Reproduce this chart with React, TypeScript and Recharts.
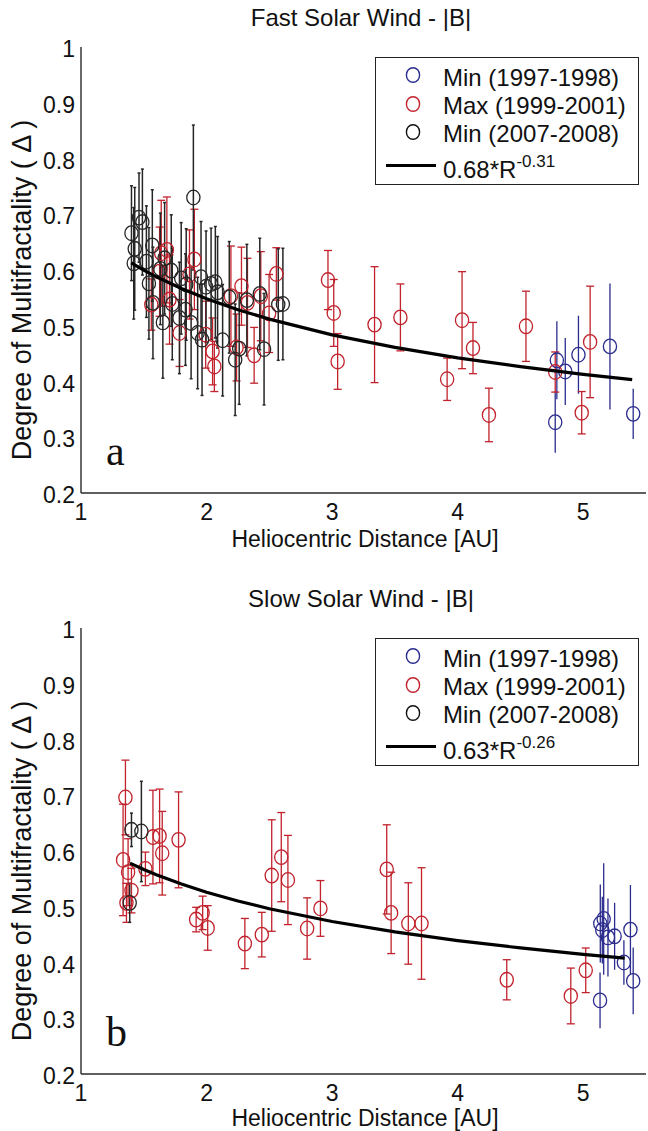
import React from 'react'
import { ErrorBar, Scatter, ScatterChart, XAxis, YAxis } from 'recharts'

const FONT = '"Liberation Sans", Arial, Helvetica, sans-serif'
const RED = '#c1222c'
const BLUE = '#2b2c8e'
const BLACK = '#262626'
const AXIS = '#2a2a2a'

// axis ticks
const xTicks = [1, 2, 3, 4, 5]
const xMinorTicks = Array.from({ length: 45 }, (_, i) => Math.round((1 + i * 0.1) * 10) / 10).filter((v) => v % 1 !== 0)
const yTicks = [0.2, 0.3, 0.4, 0.5, 0.6, 0.7, 0.8, 0.9, 1]
const yMinorTicks = [0.25, 0.35, 0.45, 0.55, 0.65, 0.75, 0.85, 0.95]

// fast wind, [R (AU), degree of multifractality, error]
const fastMin97 = [
  [4.777, 0.327, 0.055], [4.79, 0.438, 0.07], [4.857, 0.418, 0.06], [4.962, 0.448, 0.07],
  [5.213, 0.463, 0.113], [5.398, 0.342, 0.045],
]
const fastMax99 = [
  [1.56, 0.538, 0.046], [1.626, 0.597, 0.08], [1.639, 0.63, 0.095], [1.684, 0.636, 0.095],
  [1.705, 0.547, 0.08], [1.785, 0.487, 0.06], [1.864, 0.592, 0.08], [1.903, 0.619, 0.09],
  [1.993, 0.484, 0.06], [2.048, 0.454, 0.06], [2.062, 0.427, 0.045], [2.194, 0.553, 0.09],
  [2.239, 0.461, 0.06], [2.278, 0.571, 0.07], [2.326, 0.541, 0.08], [2.379, 0.447, 0.05],
  [2.432, 0.553, 0.08], [2.498, 0.522, 0.07], [2.556, 0.593, 0.047],
  [2.967, 0.582, 0.053], [3.013, 0.523, 0.06], [3.044, 0.436, 0.05], [3.338, 0.502, 0.104],
  [3.544, 0.515, 0.06], [3.916, 0.404, 0.038], [4.035, 0.51, 0.087], [4.122, 0.46, 0.046],
  [4.249, 0.34, 0.048], [4.544, 0.499, 0.063], [4.777, 0.417, 0.036], [4.988, 0.344, 0.038],
  [5.055, 0.471, 0.1],
]
const fastMin07 = [
  [1.402, 0.666, 0.085], [1.462, 0.694, 0.08], [1.489, 0.686, 0.095], [1.428, 0.638, 0.11],
  [1.42, 0.612, 0.1], [1.568, 0.644, 0.1], [1.521, 0.615, 0.1], [1.541, 0.576, 0.1],
  [1.632, 0.602, 0.1], [1.666, 0.621, 0.1], [1.719, 0.599, 0.1], [1.573, 0.541, 0.1],
  [1.652, 0.506, 0.1], [1.727, 0.539, 0.1], [1.798, 0.585, 0.1], [1.784, 0.514, 0.1],
  [1.838, 0.574, 0.1], [1.832, 0.529, 0.1], [1.877, 0.505, 0.1], [1.929, 0.487, 0.1],
  [1.895, 0.73, 0.13], [1.956, 0.587, 0.1], [1.996, 0.57, 0.1], [2.036, 0.575, 0.1],
  [2.07, 0.578, 0.1], [2.088, 0.56, 0.1], [1.964, 0.475, 0.1], [2.128, 0.474, 0.1],
  [2.181, 0.551, 0.1], [2.228, 0.439, 0.1], [2.26, 0.459, 0.1], [2.321, 0.546, 0.1],
  [2.424, 0.557, 0.1], [2.458, 0.458, 0.1], [2.571, 0.538, 0.1], [2.608, 0.539, 0.1],
]

// slow wind
const slowMin97 = [
  [5.134, 0.332, 0.05], [5.136, 0.47, 0.07], [5.163, 0.478, 0.1], [5.152, 0.458, 0.06],
  [5.197, 0.445, 0.07], [5.25, 0.447, 0.06], [5.324, 0.4, 0.04], [5.376, 0.459, 0.08],
  [5.398, 0.367, 0.06],
]
const slowMax99 = [
  [1.354, 0.696, 0.067], [1.335, 0.584, 0.1], [1.375, 0.562, 0.06], [1.402, 0.529, 0.04],
  [1.362, 0.507, 0.035], [1.513, 0.568, 0.03], [1.573, 0.625, 0.084], [1.626, 0.627, 0.084],
  [1.647, 0.596, 0.075], [1.777, 0.62, 0.086], [1.917, 0.477, 0.022], [1.969, 0.489, 0.03],
  [2.009, 0.462, 0.04], [2.305, 0.434, 0.045], [2.44, 0.45, 0.04], [2.519, 0.556, 0.1],
  [2.595, 0.589, 0.08], [2.648, 0.548, 0.08], [2.801, 0.461, 0.055], [2.907, 0.497, 0.05],
  [3.435, 0.567, 0.08], [3.47, 0.489, 0.073], [3.607, 0.47, 0.073], [3.712, 0.47, 0.1],
  [4.391, 0.369, 0.036], [4.901, 0.34, 0.05], [5.02, 0.386, 0.04],
]
const slowMin07 = [
  [1.402, 0.638, 0.03], [1.481, 0.635, 0.09], [1.388, 0.507, 0.035],
]

// power-law fits from the legend
const fastFitR = [1.4, 1.5, 1.6, 1.8, 2, 2.25, 2.5, 3, 3.5, 4, 4.5, 5, 5.39]
const slowFitR = [1.39, 1.5, 1.6, 1.8, 2, 2.25, 2.5, 3, 3.5, 4, 4.5, 5, 5.33]

const toPts = (rows: number[][]) => rows.map(([x, y, e]) => ({ x, y, e }))
const fitPts = (rs: number[], a: number, b: number) => rs.map((x) => ({ x, y: a * Math.pow(x, b) }))

const ring = (color: string) => (p: any) => (
  <ellipse cx={p.cx} cy={p.cy} rx={6.6} ry={7.3} fill='none' stroke={color} strokeWidth={1.3} />
)
const NoShape = () => <g />
const NoLabel = () => null

const YTickText = (p: any) => (
  <text x={p.x} y={p.y} dy={10} textAnchor='end' fontSize={23} fontFamily={FONT} fill='#111'>
    {p.payload.value === 1 ? '1' : p.payload.value.toFixed(1)}
  </text>
)
const XTickText = (p: any) => (
  <text x={p.x} y={p.y} dy={27} textAnchor='middle' fontSize={23} fontFamily={FONT} fill='#111'>
    {p.payload.value}
  </text>
)

function LegendBox({ fitLabel, fitExp }: { fitLabel: string; fitExp: string }) {
  const rows = [
    { color: BLUE, text: 'Min (1997-1998)' },
    { color: RED, text: 'Max (1999-2001)' },
    { color: '#111', text: 'Min (2007-2008)' },
  ]
  return (
    <div
      style={{
        position: 'absolute', left: 375, top: 57, width: 262, height: 126,
        border: '1.4px solid #222', background: '#fff',
      }}
    >
      {rows.map((r, i) => (
        <React.Fragment key={r.text}>
          <svg style={{ position: 'absolute', left: 28, top: 8 + i * 28.7 }} width={18} height={18}>
            <ellipse cx={9} cy={9} rx={6.6} ry={7.3} fill='none' stroke={r.color} strokeWidth={1.4} />
          </svg>
          <div style={{ position: 'absolute', left: 67, top: 7.5 + i * 28.3, fontSize: 24, lineHeight: 1, whiteSpace: 'nowrap', color: '#111' }}>
            {r.text}
          </div>
        </React.Fragment>
      ))}
      <div style={{ position: 'absolute', left: 10, top: 105.5, width: 50, height: 3, background: '#000' }} />
      <div style={{ position: 'absolute', left: 67, top: 99.5, fontSize: 24, lineHeight: 1, whiteSpace: 'nowrap', color: '#111' }}>
        {fitLabel}
        <span style={{ fontSize: 17, position: 'relative', top: -11 }}>{fitExp}</span>
      </div>
    </div>
  )
}

function Panel(props: {
  top: number
  title: string
  letter: string
  xLabelTop: number
  blue: number[][]
  red: number[][]
  black: number[][]
  fit: { x: number; y: number }[]
  fitLabel: string
  fitExp: string
}) {
  const { top, title, letter, xLabelTop, blue, red, black, fit, fitLabel, fitExp } = props
  const dom: [number, number] = [1, 5.5]
  const ydom: [number, number] = [0.2, 1]
  const tickStroke = { stroke: AXIS, strokeWidth: 1.1 }
  return (
    <div style={{ position: 'absolute', left: 0, top, width: 648, height: 565 }}>
      <ScatterChart width={648} height={565} margin={{ top: 47, right: 2, bottom: 0, left: 0 }}>
        <XAxis xAxisId='x' type='number' dataKey='x' domain={dom} allowDataOverflow ticks={xTicks} interval={0}
          tick={XTickText} tickLine={false} tickSize={0} tickMargin={0} height={72}
          axisLine={{ stroke: AXIS, strokeWidth: 1.4 }} />
        <XAxis xAxisId='xb1' type='number' domain={dom} allowDataOverflow ticks={xTicks} interval={0} height={0}
          orientation='bottom' mirror tick={NoLabel} tickSize={5} tickLine={tickStroke} axisLine={false} />
        <XAxis xAxisId='xb2' type='number' domain={dom} allowDataOverflow ticks={xMinorTicks} interval={0} height={0}
          orientation='bottom' mirror tick={NoLabel} tickSize={2.5} tickLine={tickStroke} axisLine={false} />
        <XAxis xAxisId='xt1' type='number' domain={dom} allowDataOverflow ticks={xTicks} interval={0} height={0}
          orientation='top' mirror tick={NoLabel} tickSize={5} tickLine={tickStroke}
          axisLine={{ stroke: AXIS, strokeWidth: 1.4 }} />
        <XAxis xAxisId='xt2' type='number' domain={dom} allowDataOverflow ticks={xMinorTicks} interval={0} height={0}
          orientation='top' mirror tick={NoLabel} tickSize={2.5} tickLine={tickStroke} axisLine={false} />
        <YAxis yAxisId='y' type='number' dataKey='y' domain={ydom} allowDataOverflow ticks={yTicks} interval={0}
          tick={YTickText} tickLine={false} tickSize={0} tickMargin={6} width={81}
          axisLine={{ stroke: AXIS, strokeWidth: 1.4 }} />
        <YAxis yAxisId='yl1' type='number' domain={ydom} allowDataOverflow ticks={yTicks} interval={0} width={0}
          orientation='left' mirror tick={NoLabel} tickSize={5} tickLine={tickStroke} axisLine={false} />
        <YAxis yAxisId='yl2' type='number' domain={ydom} allowDataOverflow ticks={yMinorTicks} interval={0} width={0}
          orientation='left' mirror tick={NoLabel} tickSize={2.5} tickLine={tickStroke} axisLine={false} />
        <YAxis yAxisId='yr1' type='number' domain={ydom} allowDataOverflow ticks={yTicks} interval={0} width={0}
          orientation='right' mirror tick={NoLabel} tickSize={5} tickLine={tickStroke}
          axisLine={{ stroke: AXIS, strokeWidth: 1.4 }} />
        <YAxis yAxisId='yr2' type='number' domain={ydom} allowDataOverflow ticks={yMinorTicks} interval={0} width={0}
          orientation='right' mirror tick={NoLabel} tickSize={2.5} tickLine={tickStroke} axisLine={false} />

        <Scatter xAxisId='x' yAxisId='y' data={toPts(blue)} shape={ring(BLUE)} isAnimationActive={false}>
          <ErrorBar dataKey='e' direction='y' width={0} stroke={BLUE} strokeWidth={1.3} isAnimationActive={false} />
        </Scatter>
        <Scatter xAxisId='x' yAxisId='y' data={toPts(red)} shape={ring(RED)} isAnimationActive={false}>
          <ErrorBar dataKey='e' direction='y' width={4} stroke={RED} strokeWidth={1.3} isAnimationActive={false} />
        </Scatter>
        <Scatter xAxisId='x' yAxisId='y' data={toPts(black)} shape={ring(BLACK)} isAnimationActive={false}>
          <ErrorBar dataKey='e' direction='y' width={1.5} stroke={BLACK} strokeWidth={1.5} isAnimationActive={false} />
        </Scatter>
        <Scatter xAxisId='x' yAxisId='y' data={fit} shape={NoShape} line={{ stroke: '#000', strokeWidth: 3.2 }}
          isAnimationActive={false} />
      </ScatterChart>

      <div style={{ position: 'absolute', left: 0, width: 722, top: 6, textAlign: 'center', fontSize: 24, lineHeight: 1, color: '#111' }}>
        {title}
      </div>
      <div style={{ position: 'absolute', left: 0, width: 730, top: xLabelTop, textAlign: 'center', fontSize: 23, lineHeight: 1, color: '#111' }}>
        Heliocentric Distance [AU]
      </div>
      <div
        style={{
          position: 'absolute', left: 22, top: 290, fontSize: 27, lineHeight: 1, whiteSpace: 'nowrap', color: '#111',
          transform: 'translate(-50%, -50%) rotate(-90deg)',
        }}
      >
        Degree of Multifractality ( Δ )
      </div>
      <div style={{ position: 'absolute', left: 106, top: 430, fontSize: 42, lineHeight: 1, fontFamily: '"Liberation Serif", "DejaVu Serif", serif', color: '#111' }}>
        {letter}
      </div>
      <LegendBox fitLabel={fitLabel} fitExp={fitExp} />
    </div>
  )
}

export default function App() {
  return (
    <div style={{ position: 'absolute', left: 0, top: 0, width: 648, height: 1131, overflow: 'hidden', background: '#fff', fontFamily: FONT }}>
      <Panel top={0} title='Fast Solar Wind - |B|' letter='a' xLabelTop={528} blue={fastMin97} red={fastMax99} black={fastMin07}
        fit={fitPts(fastFitR, 0.68, -0.31)} fitLabel='0.68*R' fitExp='-0.31' />
      <Panel top={581} title='Slow Solar Wind - |B|' letter='b' xLabelTop={526} blue={slowMin97} red={slowMax99} black={slowMin07}
        fit={fitPts(slowFitR, 0.63, -0.26)} fitLabel='0.63*R' fitExp='-0.26' />
    </div>
  )
}
